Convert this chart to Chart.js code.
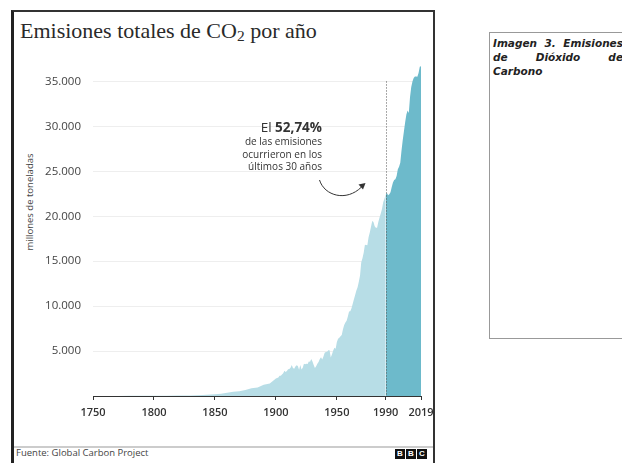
<!DOCTYPE html>
<html>
<head>
<meta charset="utf-8">
<script src="https://cdn.jsdelivr.net/npm/chart.js@4/dist/chart.umd.min.js"></script>
<style>
  body { margin: 0; width: 622px; height: 463px; background: #fff; position: relative; overflow: hidden; font-family: "Open Sans", sans-serif; }
  #frame { position: absolute; left: 11px; top: 10px; width: 419px; height: 470px; border-left: 3px solid #222; border-top: 2px solid #333; border-right: 2px solid #333; }
  #title { position: absolute; left: 20px; top: 18px; font-family: "Liberation Serif", serif; font-size: 22px; color: #2a2a2a; white-space: nowrap; }
  #title sub { font-size: 15.5px; vertical-align: -3px; line-height: 0; }
  #ytitle { position: absolute; left: 29px; top: 202px; transform: translate(-50%, -50%) rotate(-90deg); font-size: 9.5px; color: #444; white-space: nowrap; }
  #note { position: absolute; right: 300px; top: 119px; text-align: right; color: #333; font-size: 10px; line-height: 12.5px; }
  #note .big { font-size: 13.5px; line-height: 16px; }
  #footline { position: absolute; left: 14px; top: 446px; width: 419px; height: 2px; background: #ccc; }
  #source { position: absolute; left: 16px; top: 446px; font-size: 9.5px; color: #444; }
  #bbc { position: absolute; left: 395px; top: 449px; display: flex; gap: 1px; }
  #bbc span { width: 10px; height: 10px; background: #111; color: #fff; font: bold 8px "Liberation Sans", sans-serif; text-align: center; line-height: 10px; }
  #side { position: absolute; left: 489px; top: 32px; width: 150px; height: 305px; border: 1.5px solid #999; }
  #caption { position: absolute; left: 493px; top: 36px; width: 130px; font: italic bold 10.5px "DejaVu Sans", sans-serif; color: #222; text-align: justify; line-height: 14px; }
  #chart { position: absolute; left: 14px; top: 40px; }
</style>
</head>
<body>
<div id="frame"></div>
<div id="title">Emisiones totales de CO<sub>2</sub> por año</div>
<div id="ytitle">millones de toneladas</div>
<canvas id="chart" width="431" height="386"></canvas>
<div id="note"><span class="big">El <b>52,74%</b></span><br>de las emisiones<br>ocurrieron en los<br>últimos 30 años</div>
<div id="footline"></div>
<div id="source">Fuente: Global Carbon Project</div>
<div id="bbc"><span>B</span><span>B</span><span>C</span></div>
<div id="side"></div>
<div id="caption">Imagen 3. Emisiones de Dióxido de Carbono</div>
<script>
// Global CO2 emissions, million tonnes
const years = [
  1750, 1760, 1770, 1780, 1790, 1800, 1810, 1820, 1830, 1840,
  1850, 1855, 1860, 1865, 1870, 1875, 1880, 1885, 1890, 1895,
  1900, 1901, 1902, 1903, 1904, 1905, 1906, 1907, 1908, 1909,
  1910, 1911, 1912, 1913, 1914, 1915, 1916, 1917, 1918, 1919,
  1920, 1921, 1922, 1923, 1924, 1925, 1926, 1927, 1928, 1929,
  1930, 1931, 1932, 1933, 1934, 1935, 1936, 1937, 1938, 1939,
  1940, 1941, 1942, 1943, 1944, 1945, 1946, 1947, 1948, 1949,
  1950, 1951, 1952, 1953, 1954, 1955, 1956, 1957, 1958, 1959,
  1960, 1961, 1962, 1963, 1964, 1965, 1966, 1967, 1968, 1969,
  1970, 1971, 1972, 1973, 1974, 1975, 1976, 1977, 1978, 1979,
  1980, 1981, 1982, 1983, 1984, 1985, 1986, 1987, 1988, 1989,
  1990, 1991, 1992, 1993, 1994, 1995, 1996, 1997, 1998, 1999,
  2000, 2001, 2002, 2003, 2004, 2005, 2006, 2007, 2008, 2009,
  2010, 2011, 2012, 2013, 2014, 2015, 2016, 2017, 2018, 2019
];
const emissions = [
  9, 10, 12, 14, 19, 28, 36, 44, 66, 100,
  197, 260, 350, 480, 530, 680, 850, 950, 1250, 1380,
  1950, 2010, 2070, 2260, 2260, 2400, 2520, 2800, 2680, 2770,
  2980, 3010, 3150, 3460, 3110, 3040, 3290, 3430, 3330, 2920,
  3450, 2950, 3130, 3590, 3540, 3580, 3570, 3830, 3800, 4110,
  3830, 3440, 3110, 3320, 3590, 3780, 4130, 4310, 4070, 4400,
  4800, 4900, 4920, 5080, 5100, 4290, 4640, 5060, 5380, 5250,
  6000, 6380, 6480, 6660, 6780, 7440, 7900, 8170, 8380, 8840,
  9400, 9430, 9760, 10260, 10760, 11230, 11740, 12100, 12710, 13420,
  14870, 15330, 15950, 16840, 16800, 16770, 17670, 18190, 18840, 19480,
  19360, 18880, 18720, 18730, 19360, 19860, 20300, 20800, 21560, 21940,
  22370, 22630, 22350, 22450, 22680, 23270, 23760, 24050, 24110, 24470,
  25230, 25510, 25960, 27280, 28460, 29450, 30450, 31320, 31760, 31480,
  33270, 34380, 34990, 35380, 35540, 35540, 35520, 35930, 36650, 36700
];
const splitYear = 1990;
const xTicks = [1750, 1800, 1850, 1900, 1950, 1990, 2019];
const yTicks = [5000, 10000, 15000, 20000, 25000, 30000, 35000];

function fmt(v) {
  return String(v).replace(/\B(?=(\d{3})+(?!\d))/g, '.');
}

const points = years.map((y, i) => ({ x: y, y: emissions[i] }));
const before = points.filter(p => p.x <= splitYear);
const after = points.filter(p => p.x >= splitYear);

// dotted 1990 line and curved arrow
const extras = {
  id: 'extras',
  afterDatasetsDraw(chart) {
    const { ctx, scales: { x, y } } = chart;
    const px = Math.round(x.getPixelForValue(splitYear)) + 0.5;
    ctx.save();
    ctx.strokeStyle = '#555';
    ctx.lineWidth = 1;
    ctx.setLineDash([1, 2]);
    ctx.beginPath();
    ctx.moveTo(px, y.getPixelForValue(35000));
    ctx.lineTo(px, y.getPixelForValue(0));
    ctx.stroke();
    ctx.setLineDash([]);
    // arrow, placed relative to the 1990 line
    ctx.strokeStyle = '#333';
    ctx.beginPath();
    ctx.moveTo(px - 67, 140);
    ctx.bezierCurveTo(px - 62, 156, px - 40, 162, px - 25, 147);
    ctx.stroke();
    ctx.fillStyle = '#333';
    ctx.beginPath();
    ctx.moveTo(px - 21, 143);
    ctx.lineTo(px - 28, 144.5);
    ctx.lineTo(px - 23.5, 149.5);
    ctx.closePath();
    ctx.fill();
    ctx.restore();
  }
};

new Chart(document.getElementById('chart'), {
  type: 'line',
  data: {
    datasets: [
      { data: before, fill: 'origin', backgroundColor: '#b7dde6', borderWidth: 0, pointRadius: 0 },
      { data: after, fill: 'origin', backgroundColor: '#6dbacb', borderWidth: 0, pointRadius: 0 }
    ]
  },
  options: {
    responsive: false,
    animation: false,
    layout: { padding: { top: 23.5, right: 24, left: 0, bottom: 0 } },
    plugins: { legend: { display: false }, tooltip: { enabled: false } },
    scales: {
      x: {
        type: 'linear',
        min: 1750,
        max: 2019,
        afterBuildTicks: s => { s.ticks = xTicks.map(v => ({ value: v })); },
        afterFit: s => { s.height = 30; },
        grid: { drawOnChartArea: false, drawTicks: true, tickLength: 4, tickColor: '#333' },
        border: { display: true, color: '#333', width: 1 },
        ticks: {
          autoSkip: false, maxRotation: 0, padding: 6, color: '#333',
          font: { family: 'Open Sans', size: 11, weight: '600' },
          callback: v => String(v)
        }
      },
      y: {
        min: 0,
        max: 37000,
        afterBuildTicks: s => { s.ticks = yTicks.map(v => ({ value: v })); },
        afterFit: s => { s.width = 79; },
        grid: { color: '#eeeeee', drawTicks: false },
        border: { display: false },
        ticks: {
          padding: 12, color: '#444',
          font: { family: 'Open Sans', size: 11.5 },
          callback: v => fmt(v)
        }
      }
    }
  },
  plugins: [extras]
});
</script>
</body>
</html>
